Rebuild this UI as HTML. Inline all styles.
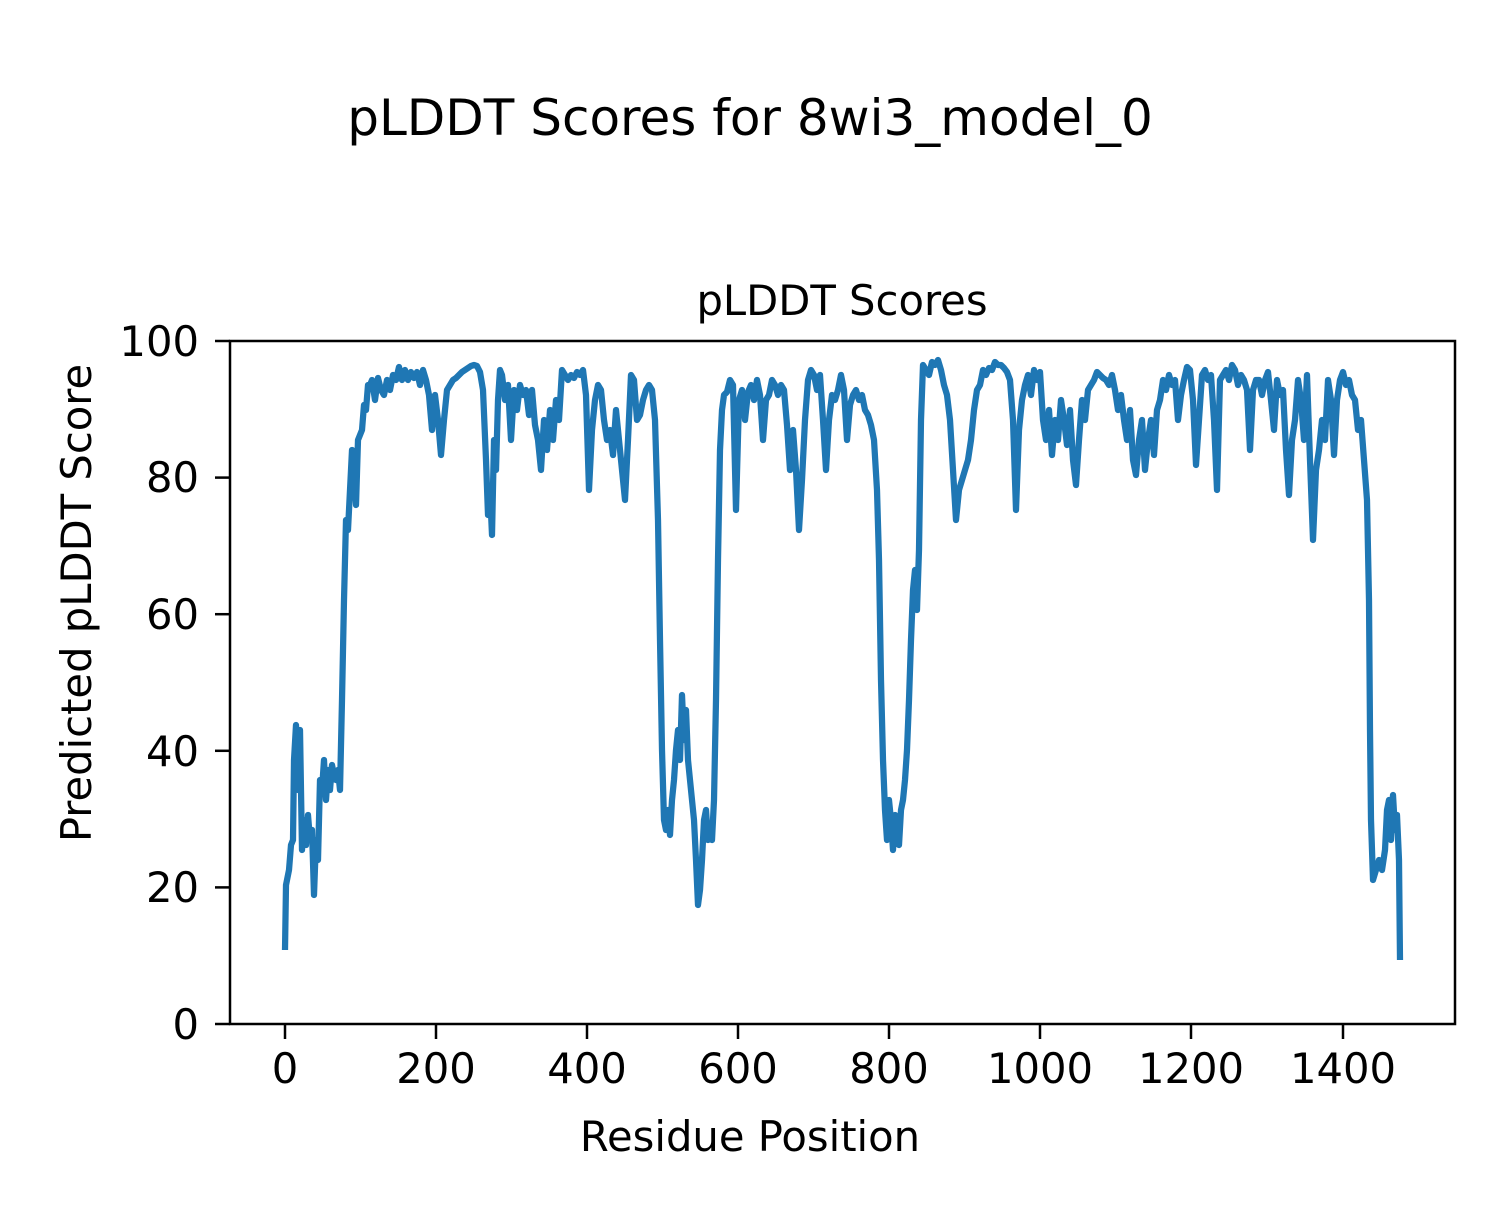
<!DOCTYPE html>
<html><head><meta charset="utf-8"><style>html,body{margin:0;padding:0;background:#fff}</style></head>
<body>
<svg width="1500" height="1200" xmlns="http://www.w3.org/2000/svg" font-family="'DejaVu Sans','Liberation Sans',sans-serif">
<rect width="1500" height="1200" fill="#fff"/>
<text x="750" y="135" font-size="50" text-anchor="middle">pLDDT Scores for 8wi3_model_0</text>
<text x="842" y="315" font-size="41.7" text-anchor="middle">pLDDT Scores</text>
<polyline fill="none" stroke="#1f77b4" stroke-width="6.25" stroke-linejoin="round" points="285,950 286,885 289,870 291,845 293,840 294,760 296,725 298,790 300,730 302,850 304,820 306,845 308,815 310,840 312,830 314,895 316,840 318,860 320,780 322,790 324,760 326,800 328,770 330,790 332,765 334,775 336,780 338,770 340,790 342,700 344,600 346,520 348,530 350,490 352,450 354,470 356,505 358,440 360,435 362,430 364,405 366,410 368,385 370,385 372,380 375,400 378,378 381,390 384,395 387,380 390,390 393,375 396,380 399,367 402,380 405,370 408,380 411,372 414,378 417,372 420,385 423,370 426,380 429,395 432,430 435,395 438,420 441,455 444,420 447,390 450,385 453,380 456,378 459,375 462,372 465,370 468,368 471,366 474,365 477,366 480,372 483,390 486,460 488,515 490,490 492,535 494,440 496,470 498,400 500,370 502,375 505,400 508,385 511,440 514,390 517,410 520,385 523,395 526,390 529,415 532,390 535,425 538,440 541,470 544,420 547,450 550,410 553,440 556,400 559,420 562,370 565,375 568,380 571,375 574,378 577,372 580,375 583,370 586,395 589,490 592,430 595,400 598,385 601,390 604,420 607,440 610,430 613,455 616,410 619,440 622,470 625,500 628,440 631,375 634,380 637,420 640,415 643,400 646,390 649,385 652,390 655,420 658,520 660,640 662,750 664,820 666,830 668,810 670,835 672,800 674,780 676,750 678,730 680,760 682,695 684,740 686,710 688,760 690,780 692,800 694,820 696,860 698,905 700,890 702,860 704,820 706,810 708,840 710,830 712,840 714,800 716,700 718,560 720,450 722,410 724,395 727,392 730,380 733,385 736,510 739,400 742,390 745,420 748,392 751,385 754,400 757,380 760,395 763,440 766,400 769,395 772,380 775,385 778,395 781,385 784,390 787,425 790,470 793,430 796,470 799,530 802,480 805,420 808,380 811,370 814,375 817,390 820,375 823,420 826,470 829,420 832,395 835,400 838,390 841,375 844,390 847,440 850,405 853,395 856,390 859,400 862,395 865,410 868,415 871,425 874,440 877,490 879,560 881,680 883,760 885,810 887,840 889,800 891,820 893,850 895,815 897,835 899,845 901,810 903,800 905,780 907,750 909,700 911,640 913,590 915,570 917,610 919,550 921,420 923,365 926,370 929,375 932,362 935,365 938,360 941,370 944,385 947,395 950,420 953,470 956,520 959,490 962,480 965,470 968,460 971,440 974,410 977,390 980,385 983,370 986,375 989,368 992,370 995,362 998,365 1001,365 1004,368 1007,372 1010,380 1013,420 1016,510 1019,430 1022,400 1025,385 1028,375 1031,395 1034,370 1037,380 1040,372 1043,420 1046,440 1049,410 1052,455 1055,420 1058,440 1061,400 1064,420 1067,445 1070,410 1073,460 1076,485 1079,440 1082,400 1085,420 1088,390 1091,385 1094,380 1097,372 1100,375 1103,378 1106,380 1109,385 1112,375 1115,390 1118,410 1121,395 1124,420 1127,440 1130,410 1133,460 1136,475 1139,440 1142,420 1145,470 1148,440 1151,420 1154,455 1157,410 1160,400 1163,380 1166,390 1169,375 1172,385 1175,380 1178,420 1181,395 1184,380 1187,367 1190,370 1193,400 1196,465 1199,420 1202,375 1205,370 1208,380 1211,375 1214,420 1217,490 1220,380 1223,375 1226,370 1229,380 1232,365 1235,370 1238,385 1241,375 1244,380 1247,390 1250,450 1253,390 1256,380 1259,380 1262,395 1265,380 1268,372 1271,400 1274,430 1277,380 1280,395 1283,390 1286,450 1289,495 1292,440 1295,420 1298,380 1301,400 1304,440 1307,375 1310,460 1313,540 1316,470 1319,450 1322,420 1325,440 1328,380 1331,400 1334,455 1337,400 1340,380 1343,372 1346,385 1349,380 1352,395 1355,400 1358,430 1361,420 1364,460 1367,500 1369,600 1370,730 1371,820 1373,880 1376,870 1379,860 1382,870 1385,850 1387,810 1389,800 1391,840 1393,795 1395,830 1397,815 1399,860 1400,960"/>
<rect x="230" y="341" width="1225" height="683" fill="none" stroke="#000" stroke-width="2.5"/>
<g stroke="#000" stroke-width="2.5">
<line x1="285" y1="1024" x2="285" y2="1039"/><line x1="436" y1="1024" x2="436" y2="1039"/><line x1="587" y1="1024" x2="587" y2="1039"/><line x1="738" y1="1024" x2="738" y2="1039"/><line x1="889" y1="1024" x2="889" y2="1039"/><line x1="1040" y1="1024" x2="1040" y2="1039"/><line x1="1191" y1="1024" x2="1191" y2="1039"/><line x1="1343" y1="1024" x2="1343" y2="1039"/>
<line x1="215" y1="1024" x2="230" y2="1024"/><line x1="215" y1="887.4" x2="230" y2="887.4"/><line x1="215" y1="750.8" x2="230" y2="750.8"/><line x1="215" y1="614.2" x2="230" y2="614.2"/><line x1="215" y1="477.6" x2="230" y2="477.6"/><line x1="215" y1="341" x2="230" y2="341"/>
</g>
<g font-size="41.7" text-anchor="middle">
<text x="285" y="1083">0</text><text x="436" y="1083">200</text><text x="587" y="1083">400</text><text x="738" y="1083">600</text><text x="889" y="1083">800</text><text x="1040" y="1083">1000</text><text x="1191" y="1083">1200</text><text x="1343" y="1083">1400</text>
</g>
<g font-size="41.7" text-anchor="end">
<text x="199" y="1039">0</text><text x="199" y="902">20</text><text x="199" y="766">40</text><text x="199" y="629">60</text><text x="199" y="492">80</text><text x="199" y="356">100</text>
</g>
<text x="750" y="1151" font-size="41.7" text-anchor="middle">Residue Position</text>
<text transform="translate(91,603) rotate(-90)" font-size="41.7" text-anchor="middle">Predicted pLDDT Score</text>
</svg>
</body></html>
